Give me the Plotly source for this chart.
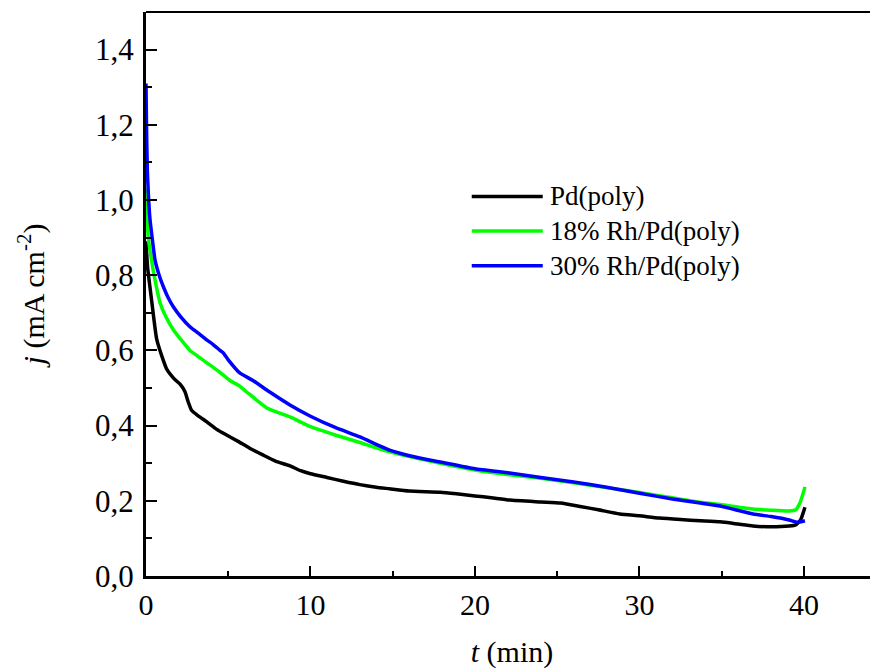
import plotly.graph_objects as go

# ---- data ----
t_pd = [0, 0.1, 0.35, 0.65, 1.0, 1.26, 1.7, 2.07, 2.37, 2.55, 2.78, 3.2, 3.7, 4.3, 4.9, 5.6, 6.3, 7.1,
        7.9, 8.75, 9.4, 10, 11, 12, 13, 14, 14.8, 16, 17.9, 19, 20, 21, 22.1, 24, 25.2, 26.4, 27.5,
        28.8, 30, 31.2, 32.5, 33.7, 34.9, 36, 36.9, 38, 39.1, 39.5, 39.8, 40.06]
j_pd = [0.89, 0.82, 0.73, 0.63, 0.58, 0.55, 0.525, 0.51, 0.49, 0.465, 0.44, 0.425, 0.41, 0.39, 0.375,
        0.358, 0.34, 0.322, 0.305, 0.293, 0.28, 0.272, 0.262, 0.252, 0.243, 0.236, 0.232, 0.226, 0.223,
        0.218, 0.213, 0.208, 0.202, 0.197, 0.194, 0.185, 0.176, 0.165, 0.16, 0.154, 0.15, 0.147, 0.144,
        0.138, 0.133, 0.131, 0.133, 0.136, 0.15, 0.183]

t_rh18 = [0, 0.05, 0.14, 0.3, 0.45, 0.65, 0.85, 1.2, 1.66, 2.1, 2.67, 3.2, 3.7, 4.4, 5.1, 5.7, 6.1, 6.4,
          6.8, 7.35, 8.0, 8.75, 10, 11.5, 13, 14.8, 16.5, 17.9, 20, 22.1, 24, 26, 28, 30, 32, 33.7, 34.9,
          36.9, 38, 39.1, 39.5, 39.75, 39.95, 40.06]
j_rh18 = [1.03, 0.96, 0.90, 0.85, 0.81, 0.765, 0.727, 0.69, 0.655, 0.63, 0.60, 0.583, 0.567, 0.545, 0.52,
          0.505, 0.49, 0.48, 0.465, 0.447, 0.435, 0.423, 0.397, 0.375, 0.355, 0.33, 0.313, 0.3, 0.282,
          0.269, 0.26, 0.248, 0.235, 0.222, 0.208, 0.196, 0.19, 0.178, 0.175, 0.173, 0.176, 0.194, 0.22,
          0.237]

t_rh30 = [0, 0.03, 0.08, 0.15, 0.24, 0.4, 0.55, 0.8, 1.05, 1.35, 1.66, 2.1, 2.67, 3.2, 3.69, 4.1, 4.5,
          4.7, 5.0, 5.7, 6.5, 7.5, 8.75, 10, 11.5, 13, 14.8, 16.5, 17.9, 20, 22.1, 24, 26, 28, 30, 32,
          33.7, 34.9, 36.9, 38, 39.1, 39.6, 40.06]
j_rh30 = [1.31, 1.2, 1.08, 1.01, 0.95, 0.89, 0.84, 0.8, 0.77, 0.74, 0.716, 0.69, 0.663, 0.645, 0.628,
          0.615, 0.60, 0.593, 0.575, 0.54, 0.52, 0.49, 0.455, 0.425, 0.395, 0.37, 0.335, 0.315, 0.303,
          0.285, 0.274, 0.262, 0.25, 0.236, 0.22, 0.205, 0.194, 0.186, 0.165, 0.158, 0.149, 0.143, 0.147]

names = ["Pd(poly)", "18% Rh/Pd(poly)", "30% Rh/Pd(poly)"]
colors = ["#000000", "#00ff00", "#0000ff"]

FONT = "Liberation Serif"

fig = go.Figure()
for t, j, n, c in [(t_pd, j_pd, names[0], colors[0]),
                   (t_rh18, j_rh18, names[1], colors[1]),
                   (t_rh30, j_rh30, names[2], colors[2])]:
    fig.add_trace(go.Scatter(x=t, y=j, mode="lines", name=n, showlegend=False,
                             line=dict(color=c, width=3.5, shape="spline", smoothing=0.5)))

# page body adds an 8px offset, so the figure is 8px smaller and margins shifted accordingly
fig.update_layout(
    width=870, height=661,
    margin=dict(l=138, r=0, t=4, b=93, autoexpand=False),
    paper_bgcolor="white", plot_bgcolor="white",
    separators=", ",
    font=dict(family=FONT, size=30, color="black"),
    showlegend=False,
    xaxis=dict(range=[0, 44.5], showgrid=False, zeroline=False, automargin=False,
               showline=True, linecolor="black", linewidth=3,
               ticks="inside", ticklen=10, tickwidth=2, tickcolor="black",
               dtick=10, tick0=0,
               minor=dict(ticks="inside", ticklen=5, tickwidth=2, tickcolor="black", dtick=5),
               tickfont=dict(family=FONT, size=30, color="black"),
               title=dict(text="<i>t</i> (min)", font=dict(family=FONT, size=30, color="black"),
                          standoff=22)),
    yaxis=dict(range=[0, 1.5], showgrid=False, zeroline=False, automargin=False,
               showline=True, linecolor="black", linewidth=3,
               ticks="inside", ticklen=11, tickwidth=2, tickcolor="black",
               dtick=0.2, tick0=0, tickformat=".1f", ticklabelstandoff=3,
               minor=dict(ticks="inside", ticklen=6, tickwidth=2, tickcolor="black", dtick=0.1),
               tickfont=dict(family=FONT, size=31, color="black"),
               title=dict(text="<i>j</i> (mA cm<sup>-2</sup>)",
                          font=dict(family=FONT, size=30, color="black"), standoff=42)),
)
# thin top frame line
fig.add_shape(type="line", xref="paper", yref="paper", x0=0, x1=1, y0=1, y1=1,
              line=dict(color="black", width=2))

# legend drawn as sample lines + labels (long sample lines as in the reference)
leg_x0, leg_x1, leg_tx = 0.445, 0.542, 0.549
leg_y0, leg_dy = 0.673, 0.0615
for i, (n, c) in enumerate(zip(names, colors)):
    yy = leg_y0 - i * leg_dy
    fig.add_shape(type="line", xref="paper", yref="paper", x0=leg_x0, x1=leg_x1, y0=yy, y1=yy,
                  line=dict(color=c, width=3.5))
    fig.add_annotation(xref="paper", yref="paper", x=leg_tx, y=yy, text=n, showarrow=False,
                       xanchor="left", yanchor="middle",
                       font=dict(family=FONT, size=27, color="black"))

fig.write_html("out.html")
